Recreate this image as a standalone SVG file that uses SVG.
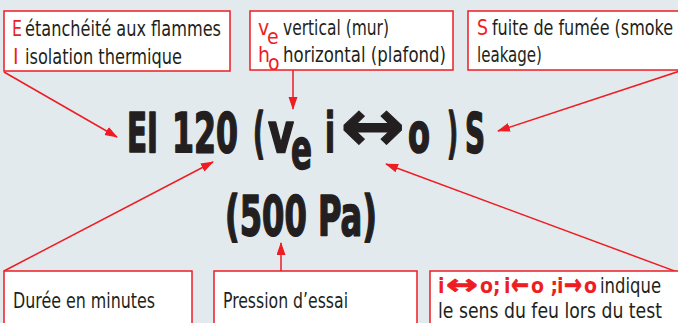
<svg xmlns="http://www.w3.org/2000/svg" width="678" height="323" viewBox="0 0 678 323">
<defs>
<marker id="ah" markerWidth="13" markerHeight="10" refX="12" refY="4.5" orient="auto" markerUnits="userSpaceOnUse">
<path d="M0,0 L13,4.5 L0,9 z" fill="#ee1d23"/>
</marker>
<style>
.box{fill:#fff;stroke:#ee1d23;stroke-width:1.5}
.t{font-family:"Liberation Sans Narrow","DejaVu Sans Condensed","Liberation Sans",sans-serif;font-size:21px;fill:#231f20}
.r{fill:#ee1d23}
.b{font-weight:bold}
.big{font-family:"Liberation Sans Narrow","DejaVu Sans Condensed","Liberation Sans",sans-serif;font-weight:bold;font-size:55px;fill:#231f20;stroke:#231f20;stroke-width:1.6;stroke-linejoin:round}
.sym{font-family:"DejaVu Sans",sans-serif;font-weight:bold}
.ra{stroke:#ee1d23;stroke-width:0.8}
.c{stroke:#ee1d23;stroke-width:1.5;fill:none;marker-end:url(#ah)}
</style>
</defs>
<rect width="678" height="323" fill="#e3eaee"/>
<g id="connectors">
<line class="c" x1="4" y1="72" x2="117" y2="137"/>
<line class="c" x1="293" y1="70" x2="293" y2="109"/>
<line class="c" x1="680" y1="71" x2="498" y2="131"/>
<line class="c" x1="4" y1="271" x2="213" y2="162"/>
<line class="c" x1="281" y1="271" x2="281" y2="243"/>
<line class="c" x1="680" y1="273" x2="386" y2="164"/>
</g>
<g id="box-EI">
<rect class="box" x="4" y="11" width="226" height="60"/>
<text class="t r" x="12" y="36" textLength="10" lengthAdjust="spacingAndGlyphs">E</text>
<text class="t" x="25" y="36" textLength="196" lengthAdjust="spacingAndGlyphs">étanchéité aux flammes</text>
<text class="t r" x="13" y="64">I</text>
<text class="t" x="25" y="64" textLength="157" lengthAdjust="spacingAndGlyphs">isolation thermique</text>
</g>
<g id="box-vh">
<rect class="box" x="250" y="11" width="203" height="59"/>
<text class="t r" x="258" y="35">v</text>
<text class="t r" x="267" y="44">e</text>
<text class="t" x="283" y="35" textLength="106" lengthAdjust="spacingAndGlyphs">vertical (mur)</text>
<text class="t r" x="258" y="62">h</text>
<text class="t r" x="268" y="70">o</text>
<text class="t" x="283" y="62" textLength="163" lengthAdjust="spacingAndGlyphs">horizontal (plafond)</text>
</g>
<g id="box-S">
<rect class="box" x="468" y="11" width="215" height="59"/>
<text class="t r" x="477" y="35" textLength="11" lengthAdjust="spacingAndGlyphs">S</text>
<text class="t" x="492" y="35" textLength="181" lengthAdjust="spacingAndGlyphs">fuite de fumée (smoke</text>
<text class="t" x="477" y="62" textLength="65" lengthAdjust="spacingAndGlyphs">leakage)</text>
</g>
<g id="main">
<text class="big" x="127" y="152" textLength="31" lengthAdjust="spacingAndGlyphs">EI</text>
<text class="big" x="172" y="152" textLength="66" lengthAdjust="spacingAndGlyphs">120</text>
<text class="big" x="253" y="152" textLength="12" lengthAdjust="spacingAndGlyphs">(</text>
<text class="big" x="268" y="152" textLength="26" lengthAdjust="spacingAndGlyphs">v</text>
<text class="big" x="291" y="168" textLength="21" lengthAdjust="spacingAndGlyphs">e</text>
<text class="big" x="325" y="152" textLength="10" lengthAdjust="spacingAndGlyphs">i</text>
<text class="big sym" x="340" y="151" style="font-size:74px;stroke-width:1" textLength="65" lengthAdjust="spacingAndGlyphs">↔</text>
<text class="big" x="408" y="152" textLength="22" lengthAdjust="spacingAndGlyphs">o</text>
<text class="big" x="447" y="152" textLength="11" lengthAdjust="spacingAndGlyphs">)</text>
<text class="big" x="465" y="152" textLength="20" lengthAdjust="spacingAndGlyphs">S</text>
<text class="big" x="225" y="235" textLength="152" lengthAdjust="spacingAndGlyphs">(500 Pa)</text>
</g>
<g id="box-duree">
<rect class="box" x="4" y="271" width="188" height="60"/>
<text class="t" x="13" y="308" textLength="142" lengthAdjust="spacingAndGlyphs">Durée en minutes</text>
</g>
<g id="box-pression">
<rect class="box" x="214" y="271" width="203" height="60"/>
<text class="t" x="223" y="308" textLength="125" lengthAdjust="spacingAndGlyphs">Pression d’essai</text>
</g>
<g id="box-sens">
<rect class="box" x="430" y="271" width="255" height="60"/>
<text class="t r b" x="438" y="293">i</text>
<text class="t r b sym ra" x="446" y="294" style="font-size:28px" textLength="32" lengthAdjust="spacingAndGlyphs">↔</text>
<text class="t r b" x="480" y="293">o;</text>
<text class="t r b" x="504" y="293">i</text>
<text class="t r b sym ra" x="511" y="294" style="font-size:28px" textLength="18" lengthAdjust="spacingAndGlyphs">←</text>
<text class="t r b" x="531" y="293">o ;</text>
<text class="t r b" x="557" y="293">i</text>
<text class="t r b sym ra" x="564" y="294" style="font-size:28px" textLength="18" lengthAdjust="spacingAndGlyphs">→</text>
<text class="t r b" x="584" y="293">o</text>
<text class="t" x="600" y="293" textLength="61" lengthAdjust="spacingAndGlyphs">indique</text>
<text class="t" x="438" y="318" textLength="224" lengthAdjust="spacingAndGlyphs">le sens du feu lors du test</text>
</g>
</svg>
